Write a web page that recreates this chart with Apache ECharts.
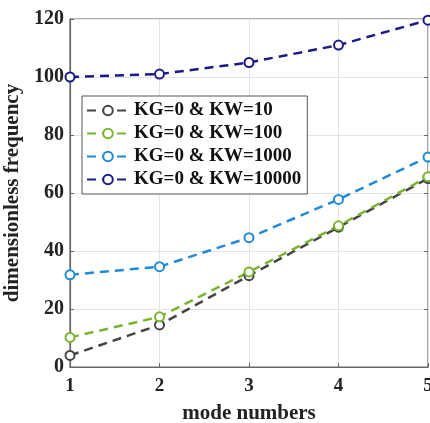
<!DOCTYPE html>
<html><head><meta charset="utf-8">
<script src="https://cdn.jsdelivr.net/npm/echarts@6/dist/echarts.min.js"></script>
<style>html,body{margin:0;padding:0;background:#fff}#c{width:430px;height:423px}</style>
</head><body><div id="c"></div>
<script>
const modes = ['1','2','3','4','5'];
const kw10 = [4, 14.5, 31.5, 48.2, 65];
const kw100 = [10.2, 17.3, 32.8, 48.7, 65.6];
const kw1000 = [31.8, 34.6, 44.6, 57.8, 72.4];
const kw10000 = [100, 101, 105, 111, 119.6];
const names = ['KG=0 & KW=10', 'KG=0 & KW=100', 'KG=0 & KW=1000', 'KG=0 & KW=10000'];
const colors = ['#454545', '#79b52f', '#1f8ad6', '#1b1b86'];
const FONT = '"Liberation Serif", "Times New Roman", serif';

const chart = echarts.init(document.getElementById('c'));
function mk(i, data) {
  return {
    name: names[i], type: 'line', data: data,
    symbol: 'emptyCircle', symbolSize: 9,
    lineStyle: {color: colors[i], width: 2.5, type: [9, 6]},
    itemStyle: {color: colors[i], borderColor: colors[i], borderWidth: 1.8},
    z: 3
  };
}
chart.setOption({
  animation: false,
  backgroundColor: '#fff',
  grid: {left: 70, right: 2, top: 19, bottom: 56, show: true, borderColor: '#666', borderWidth: 1.2,
         outerBoundsMode: 'none', containLabel: false},
  legend: {
    left: 82, top: 96, orient: 'vertical', itemGap: 4, itemWidth: 42, itemHeight: 12,
    padding: [5, 6, 5, 4],
    backgroundColor: '#fff', borderColor: '#555', borderWidth: 1,
    textStyle: {fontFamily: FONT, fontWeight: 'bold', fontSize: 19, color: '#111'},
    data: names
  },
  xAxis: [{
    type: 'category', data: modes, boundaryGap: false,
    name: 'mode numbers', nameLocation: 'middle', nameGap: 36,
    nameTextStyle: {fontFamily: FONT, fontWeight: 'bold', fontSize: 21, color: '#222'},
    axisLine: {lineStyle: {color: '#666', width: 1.2}},
    axisTick: {inside: true, length: 4, lineStyle: {color: '#666'}},
    axisLabel: {fontFamily: FONT, fontWeight: 'bold', fontSize: 19, color: '#222', margin: 10},
    splitLine: {show: true, lineStyle: {color: '#e3e3e3'}}
  }],
  yAxis: [{
    type: 'value', min: 0, max: 120, interval: 20,
    name: 'dimensionless frequency', nameLocation: 'middle', nameGap: 36,
    nameTextStyle: {fontFamily: FONT, fontWeight: 'bold', fontSize: 21, color: '#222'},
    axisLine: {show: true, lineStyle: {color: '#666', width: 1.2}},
    axisTick: {show: true, inside: true, length: 4, lineStyle: {color: '#666'}},
    axisLabel: {fontFamily: FONT, fontWeight: 'bold', fontSize: 20, color: '#222', margin: 6},
    splitLine: {show: true, lineStyle: {color: '#e3e3e3'}}
  }, {
    type: 'value', min: 0, max: 120, interval: 20, position: 'right',
    axisLine: {show: false}, axisLabel: {show: false}, splitLine: {show: false},
    axisTick: {show: true, inside: true, length: 4, lineStyle: {color: '#666'}}
  }],
  series: [mk(0, kw10), mk(1, kw100), mk(2, kw1000), mk(3, kw10000)]
});
</script></body></html>
